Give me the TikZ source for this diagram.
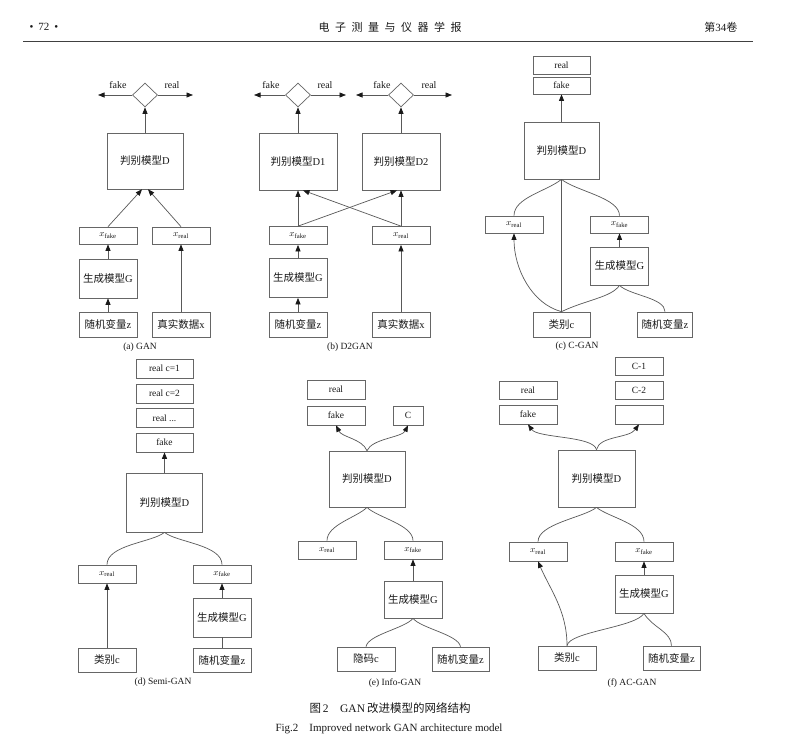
\documentclass[tikz,border=0pt]{standalone}
\usepackage{fontspec}
\setmainfont{Liberation Serif}
\newfontfamily\cjk{Noto Sans CJK SC}
\newcommand\zh[1]{{\cjk #1}}
\usetikzlibrary{shapes.geometric,arrows.meta,shadows}
\tikzset{
  box/.style={draw=black!60, line width=0.7pt, fill=white, inner sep=0pt, text=black!90,
    font=\fontsize{10.5}{12}\selectfont,
    drop shadow={shadow xshift=0.8pt, shadow yshift=-0.8pt, fill=black!25, opacity=1}},
  sbox/.style={box, font=\fontsize{9.5}{11}\selectfont},
  sz/.style 2 args={minimum width=#1pt, minimum height=#2pt},
  dia/.style={diamond, draw=black!60, line width=0.7pt, fill=white, inner sep=0pt,
    minimum width=25pt, minimum height=24pt},
  conn/.style={draw=black!65, line width=0.7pt},
  arr/.style={conn, -{Triangle[length=6.5pt,width=5pt,color=black!90,fill=black!90]}},
  lbl/.style={font=\fontsize{10}{11}\selectfont, text=black!90},
  subcap/.style={font=\fontsize{9.5}{10}\selectfont, text=black!90},
}
\newcommand\xs[1]{{\fontsize{9.5}{10}\selectfont$x_{\mathrm{#1}}$}}
\begin{document}
\begin{tikzpicture}[x=1pt,y=-1pt]
\useasboundingbox (0,0) rectangle (785,748);
\fill[white] (0,0) rectangle (785,748);
% header
\node[anchor=west, font=\fontsize{11}{12}\selectfont, text=black!90] (pg) at (26,27) {•\hspace{5pt}72\hspace{5pt}•};
\node[font=\fontsize{11}{12}\selectfont, text=black!90] (jt) at (390,27)
  {\zh{电\hspace{5.5pt}子\hspace{5.5pt}测\hspace{5.5pt}量\hspace{5.5pt}与\hspace{5.5pt}仪\hspace{5.5pt}器\hspace{5.5pt}学\hspace{5.5pt}报}};
\node[anchor=east, font=\fontsize{11}{12}\selectfont, text=black!90] (vol) at (741,27) {\zh{第}34\zh{卷}};
\draw[black!75, line width=1pt] (23,41) -- (753,41);

% ---------------- (a) GAN
\node[dia] (dA) at (145,95) {};
\coordinate (dAl) at (98,95); \coordinate (dAr) at (193,95);
\node[lbl] (fA) at (118,85) {fake};
\node[lbl] (rA) at (172,85) {real};
\node[box,sz={76}{56}] (DA) at (145,161) {\zh{判别模型}D};
\node[box,sz={58}{17}] (xfA) at (108,235.5) {\xs{fake}};
\node[box,sz={58}{17}] (xrA) at (181,235.5) {\xs{real}};
\node[box,sz={58}{39}] (GA) at (108,278.5) {\zh{生成模型}G};
\node[box,sz={58}{25}] (zA) at (108,324.5) {\zh{随机变量}z};
\node[box,sz={58}{25}] (rdA) at (181,324.5) {\zh{真实数据}x};
\node[subcap] (capA) at (140,347) {(a) GAN};
\draw[arr] (DA.north) -- (dA.south);
\draw[arr] (dA.west) -- (dAl);
\draw[arr] (dA.east) -- (dAr);
\draw[arr] (xfA.north) -- ([xshift=-3pt]DA.south);
\draw[arr] (xrA.north) -- ([xshift=3pt]DA.south);
\draw[arr] (GA.north) -- (xfA.south);
\draw[arr] (zA.north) -- (GA.south);
\draw[arr] (rdA.north) -- (xrA.south);

% ---------------- (b) D2GAN
\node[dia] (dB1) at (298,95) {};
\node[dia] (dB2) at (401,95) {};
\coordinate (dB1l) at (254,95); \coordinate (dB1r) at (346,95);
\coordinate (dB2l) at (356,95); \coordinate (dB2r) at (452,95);
\node[lbl] (fB1) at (271,85) {fake};
\node[lbl] (rB1) at (325,85) {real};
\node[lbl] (fB2) at (382,85) {fake};
\node[lbl] (rB2) at (429,85) {real};
\node[box,sz={78}{57}] (DB1) at (298,161.5) {\zh{判别模型}D1};
\node[box,sz={78}{57}] (DB2) at (401,161.5) {\zh{判别模型}D2};
\node[box,sz={58}{18}] (xfB) at (298,235.5) {\xs{fake}};
\node[box,sz={58}{18}] (xrB) at (401,235.5) {\xs{real}};
\node[box,sz={58}{39}] (GB) at (298,278) {\zh{生成模型}G};
\node[box,sz={58}{25}] (zB) at (298,324.5) {\zh{随机变量}z};
\node[box,sz={58}{25}] (rdB) at (401,324.5) {\zh{真实数据}x};
\node[subcap] (capB) at (350,347) {(b) D2GAN};
\draw[arr] (DB1.north) -- (dB1.south);
\draw[arr] (DB2.north) -- (dB2.south);
\draw[arr] (dB1.west) -- (dB1l);
\draw[arr] (dB1.east) -- (dB1r);
\draw[arr] (dB2.west) -- (dB2l);
\draw[arr] (dB2.east) -- (dB2r);
\draw[arr] (xfB.north) -- (DB1.south);
\draw[arr] (xrB.north) -- (DB2.south);
\draw[arr] (xfB.north) -- ([xshift=-4pt]DB2.south);
\draw[arr] (xrB.north) -- ([xshift=5pt]DB1.south);
\draw[arr] (GB.north) -- (xfB.south);
\draw[arr] (zB.north) -- (GB.south);
\draw[arr] (rdB.north) -- (xrB.south);

% ---------------- (c) C-GAN
\node[sbox,sz={57}{18}] (realC) at (561.5,65.5) {real};
\node[sbox,sz={57}{17}] (fakeC) at (561.5,85.5) {fake};
\node[box,sz={75}{57}] (DC) at (561.5,150.5) {\zh{判别模型}D};
\node[box,sz={58}{17}] (xrC) at (514,224.5) {\xs{real}};
\node[box,sz={58}{17}] (xfC) at (619.5,224.5) {\xs{fake}};
\node[box,sz={58}{38}] (GC) at (619.5,266) {\zh{生成模型}G};
\node[box,sz={57}{25}] (cC) at (561.5,324.5) {\zh{类别}c};
\node[box,sz={55}{25}] (zC) at (665,324.5) {\zh{随机变量}z};
\node[subcap] (capC) at (577,346) {(c) C-GAN};
\draw[arr] (DC.north) -- (fakeC.south);
\draw[conn] (DC.south) .. controls +(-15,12) and +(0,-18) .. (xrC.north);
\draw[conn] (DC.south) .. controls +(15,12) and +(0,-18) .. (xfC.north);
\draw[conn] (cC.north) -- (DC.south);
\draw[arr] (cC.north) .. controls +(-30,-8) and +(0,35) .. (xrC.south);
\draw[conn] (cC.north) .. controls +(25,-12) and +(-8,12) .. (GC.south);
\draw[conn] (zC.north) .. controls +(0,-14) and +(10,10) .. (GC.south);
\draw[arr] (GC.north) -- (xfC.south);

% ---------------- (d) Semi-GAN
\node[sbox,sz={57}{19}] (r1D) at (164.5,368.5) {real c=1};
\node[sbox,sz={57}{19}] (r2D) at (164.5,393.5) {real c=2};
\node[sbox,sz={57}{19}] (r3D) at (164.5,418) {real ...};
\node[sbox,sz={57}{19}] (fD) at (164.5,442.5) {fake};
\node[box,sz={76}{59}] (DD) at (164.5,502.5) {\zh{判别模型}D};
\node[box,sz={58}{18}] (xrD) at (107,574) {\xs{real}};
\node[box,sz={58}{18}] (xfD) at (222,574) {\xs{fake}};
\node[box,sz={58}{39}] (GD) at (222,617.5) {\zh{生成模型}G};
\node[box,sz={58}{24}] (cD) at (107,660) {\zh{类别}c};
\node[box,sz={58}{24}] (zD) at (222,660) {\zh{随机变量}z};
\node[subcap] (capD) at (163,682) {(d) Semi-GAN};
\draw[arr] (DD.north) -- (fD.south);
\draw[conn] (DD.south) .. controls +(-12,10) and +(0,-20) .. (xrD.north);
\draw[conn] (DD.south) .. controls +(12,10) and +(0,-20) .. (xfD.north);
\draw[arr] (cD.north) -- (xrD.south);
\draw[arr] (GD.north) -- (xfD.south);
\draw[conn] (zD.north) -- (GD.south);

% ---------------- (e) Info-GAN
\node[sbox,sz={58}{19}] (realE) at (336,389.5) {real};
\node[sbox,sz={58}{19}] (fakeE) at (336,415.5) {fake};
\node[sbox,sz={30}{19}] (CE) at (408,415.5) {C};
\node[box,sz={76}{56}] (DE) at (367,479) {\zh{判别模型}D};
\node[box,sz={58}{18}] (xrE) at (327,550) {\xs{real}};
\node[box,sz={58}{18}] (xfE) at (413,550) {\xs{fake}};
\node[box,sz={58}{37}] (GE) at (413,599.5) {\zh{生成模型}G};
\node[box,sz={58}{24}] (cE) at (366,659) {\zh{隐码}c};
\node[box,sz={57}{24}] (zE) at (460.5,659) {\zh{随机变量}z};
\node[subcap] (capE) at (395,683) {(e) Info-GAN};
\draw[arr] (DE.north) .. controls +(-5,-12) and +(6,12) .. (fakeE.south);
\draw[arr] (DE.north) .. controls +(5,-12) and +(-6,12) .. (CE.south);
\draw[conn] (DE.south) .. controls +(-10,10) and +(0,-16) .. (xrE.north);
\draw[conn] (DE.south) .. controls +(10,10) and +(0,-16) .. (xfE.north);
\draw[arr] (GE.north) -- (xfE.south);
\draw[conn] (cE.north) .. controls +(2,-12) and +(-8,10) .. (GE.south);
\draw[conn] (zE.north) .. controls +(-2,-12) and +(8,10) .. (GE.south);

% ---------------- (f) AC-GAN
\node[sbox,sz={48}{18}] (C1F) at (639,366) {C-1};
\node[sbox,sz={48}{18}] (C2F) at (639,390) {C-2};
\node[sbox,sz={48}{19}] (CxF) at (639,414.5) {};
\node[sbox,sz={58}{18}] (realF) at (528,390) {real};
\node[sbox,sz={58}{19}] (fakeF) at (528,414.5) {fake};
\node[box,sz={77}{57}] (DF) at (596.5,478.5) {\zh{判别模型}D};
\node[box,sz={58}{19}] (xrF) at (538,551.5) {\xs{real}};
\node[box,sz={58}{19}] (xfF) at (644,551.5) {\xs{fake}};
\node[box,sz={58}{38}] (GF) at (644,594) {\zh{生成模型}G};
\node[box,sz={58}{24}] (cF) at (567,658) {\zh{类别}c};
\node[box,sz={57}{24}] (zF) at (671.5,658) {\zh{随机变量}z};
\node[subcap] (capF) at (632,683) {(f) AC-GAN};
\draw[arr] (DF.north) .. controls +(-3,-14) and +(10,14) .. (fakeF.south);
\draw[arr] (DF.north) .. controls +(3,-14) and +(-10,14) .. (CxF.south);
\draw[conn] (DF.south) .. controls +(-12,10) and +(0,-18) .. (xrF.north);
\draw[conn] (DF.south) .. controls +(12,10) and +(0,-18) .. (xfF.north);
\draw[arr] (GF.north) -- (xfF.south);
\draw[arr] (cF.north) .. controls +(0,-35) and +(12,28) .. (xrF.south);
\draw[conn] (cF.north) .. controls +(2,-14) and +(-8,14) .. (GF.south);
\draw[conn] (zF.north) .. controls +(0,-14) and +(8,14) .. (GF.south);

% figure caption
\node[font=\fontsize{11.5}{13}\selectfont, text=black!90] (cap1) at (390,708) {\zh{图}\,2\quad GAN\,\zh{改进模型的网络结构}};
\node[font=\fontsize{11}{12}\selectfont, text=black!90] (cap2) at (389,729) {Fig.2\quad Improved network GAN architecture model};
\end{tikzpicture}
\end{document}
